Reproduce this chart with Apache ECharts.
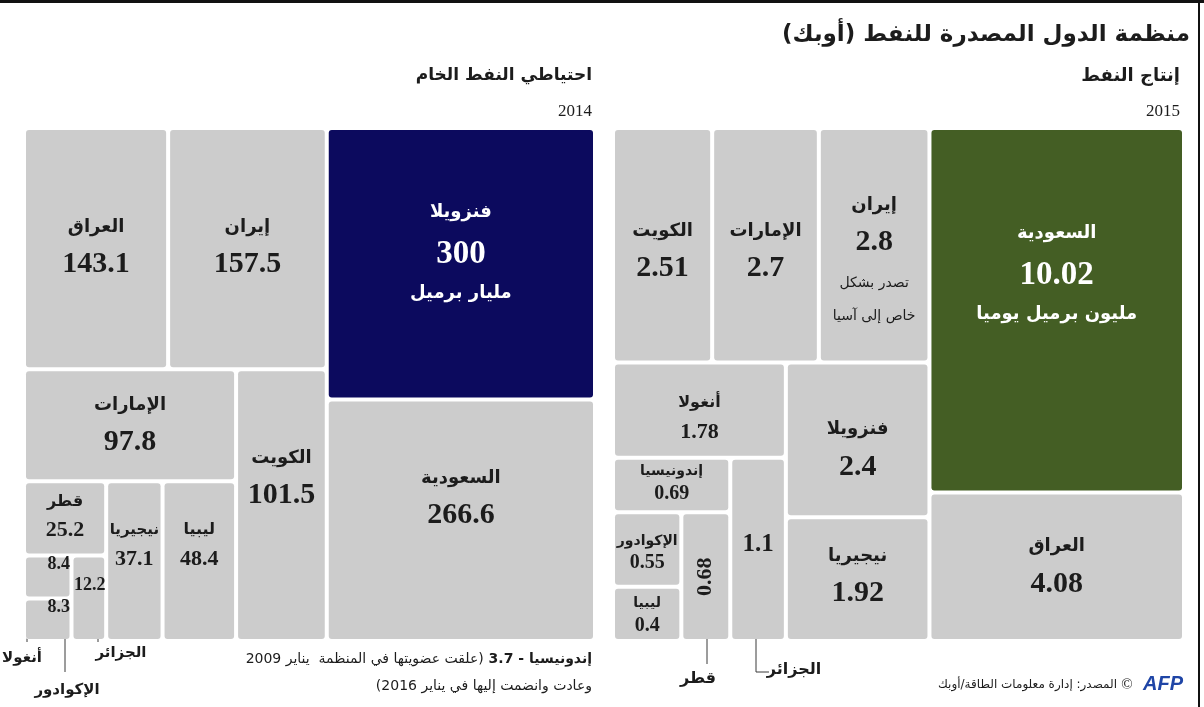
<!DOCTYPE html>
<html><head><meta charset="utf-8">
<script src="https://cdn.jsdelivr.net/npm/echarts@6/dist/echarts.min.js"></script>
<style>html,body{margin:0;padding:0;background:#fff;overflow:hidden}#c{width:1204px;height:707px}</style>
</head><body>
<div id="c" dir="rtl"></div>
<script>
// ---------------- data ----------------
const chartTitle = 'منظمة الدول المصدرة للنفط (أوبك)';
const reserveTitle = 'احتياطي النفط الخام';
const reserveYear = '2014';
const reserveUnit = 'مليار برميل';
const reserveCountries = ['فنزويلا','السعودية','إيران','العراق','الكويت','الإمارات','ليبيا','نيجيريا','قطر','الجزائر','أنغولا','الإكوادور'];
const reserveValues    = [300, 266.6, 157.5, 143.1, 101.5, 97.8, 48.4, 37.1, 25.2, 12.2, 8.4, 8.3];

const productionTitle = 'إنتاج النفط';
const productionYear = '2015';
const productionUnit = 'مليون برميل يوميا';
const productionCountries = ['السعودية','العراق','إيران','الإمارات','الكويت','فنزويلا','نيجيريا','أنغولا','الجزائر','إندونيسيا','قطر','الإكوادور','ليبيا'];
const productionValues    = [10.02, 4.08, 2.8, 2.7, 2.51, 2.4, 1.92, 1.78, 1.1, 0.69, 0.68, 0.55, 0.4];
const iranNote = ['تصدر بشكل', 'خاص إلى آسيا'];

const footnoteBold = 'إندونيسيا - 3.7 ';
const footnoteRest = '(علقت عضويتها في المنظمة  يناير 2009';
const footnoteLine2 = 'وعادت وانضمت إليها في يناير 2016)';
const sourceText = 'المصدر: إدارة معلومات الطاقة/أوبك';

// grouping (structure only) of the two treemaps
const reserveLayout = [['العراق','إيران',[['الإمارات',[['قطر',[['أنغولا','الإكوادور'],'الجزائر']],['نيجيريا','ليبيا']]],'الكويت']],'فنزويلا','السعودية'];
const productionLayout = [[['الكويت','الإمارات'],'إيران'], ['أنغولا',[['إندونيسيا',[['الإكوادور','ليبيا'],'قطر']],'الجزائر'],'فنزويلا','نيجيريا'], ['السعودية','العراق']];

// ---------------- styles ----------------
const AR = "'DejaVu Sans', sans-serif";
const NUM = "'Liberation Serif', 'DejaVu Serif', serif";
const DARK = '#1c1c1c';
const GRAY = '#cccccc';

const reserveStyle = {
  'فنزويلا': {kind:'big', dy:-12, color:'#0c0a5e'},
  'السعودية': {kind:'std', dy:-21},
  'إيران': {kind:'std', dy:0},
  'العراق': {kind:'std', dy:0},
  'الكويت': {kind:'std', dy:-26},
  'الإمارات': {kind:'std', dy:1},
  'ليبيا': {kind:'small', dy:-16},
  'نيجيريا': {kind:'smallN', dy:-16},
  'قطر': {kind:'small', dy:-2},
  'الجزائر': {kind:'tiny', dy:-12.5, dx:1},
  'أنغولا': {kind:'tiny', dy:-40, dx:11},
  'الإكوادور': {kind:'tiny', dy:-40, dx:11}
};
const productionStyle = {
  'السعودية': {kind:'big', dy:-38, color:'#445e24'},
  'العراق': {kind:'std', dy:1},
  'إيران': {kind:'note', dy:14},
  'الإمارات': {kind:'std', dy:7},
  'الكويت': {kind:'std', dy:7},
  'فنزويلا': {kind:'std', dy:11},
  'نيجيريا': {kind:'std', dy:-2},
  'أنغولا': {kind:'small', dy:8},
  'الجزائر': {kind:'tinyBig', dy:-5},
  'إندونيسيا': {kind:'mini', dy:-2},
  'قطر': {kind:'rot', dy:0, rotate:90},
  'الإكوادور': {kind:'mini', dy:3},
  'ليبيا': {kind:'mini', dy:1}
};
// line heights of each label kind (must match rich styles below)
const kindLines = {std:[32,42], small:[28,30], smallN:[28,30], mini:[21,23], tiny:[14], tinyBig:[30], rot:[30], note:[32,42,40,26], big:[42,42,36]};

function labelText(kind, name, val, unit) {
  switch (kind) {
    case 'big': return '{nw|' + name + '}\n{vw|' + val + '}\n{uw|' + unit + '}';
    case 'small': return '{ns|' + name + '}\n{vs|' + val + '}';
    case 'smallN': return '{nn|' + name + '}\n{vs|' + val + '}';
    case 'mini': return '{nx|' + name + '}\n{vx|' + val + '}';
    case 'tiny': return '{vt|' + val + '}';
    case 'tinyBig': return '{vb|' + val + '}';
    case 'rot': return '{vs|' + val + '}';
    case 'note': return '{n|' + name + '}\n{v|' + val + '}\n{s1|' + iranNote[0] + '}\n{s2|' + iranNote[1] + '}';
    default: return '{n|' + name + '}\n{v|' + val + '}';
  }
}

// cellHeights: heights of the cells as laid out by the treemap (second pass), used to centre the labels
function buildTree(layout, names, values, styles, unit, cellHeights) {
  const lookup = {};
  names.forEach(function (n, i) { lookup[n] = values[i]; });
  function node(entry) {
    if (Array.isArray(entry)) {
      return {name: '', children: entry.map(node), label: {show: false}};
    }
    const v = lookup[entry];
    const st = styles[entry] || {kind: 'std', dy: 0};
    const contentH = kindLines[st.kind].reduce(function (a, b) { return a + b; }, 0);
    let pad = 0;
    if (cellHeights && cellHeights[entry] != null) {
      pad = Math.max(0, (cellHeights[entry] - contentH) / 2 + (st.dy || 0));
    }
    return {
      name: entry,
      value: v,
      itemStyle: {color: st.color || GRAY},
      label: {show: true, formatter: labelText(st.kind, entry, String(v), unit),
        padding: [pad, 0, 0, 0], offset: [st.dx || 0, 0], rotate: st.rotate || 0}
    };
  }
  return layout.map(node);
}

const rich = {
  n:  {fontFamily: AR, fontSize: 18, fontWeight: 'bold', color: DARK, lineHeight: 32, align: 'center'},
  v:  {fontFamily: NUM, fontSize: 30, fontWeight: 'bold', color: DARK, lineHeight: 42, align: 'center'},
  ns: {fontFamily: AR, fontSize: 16, fontWeight: 'bold', color: DARK, lineHeight: 28, align: 'center'},
  nn: {fontFamily: AR, fontSize: 15, fontWeight: 'bold', color: DARK, lineHeight: 28, align: 'center'},
  vs: {fontFamily: NUM, fontSize: 22, fontWeight: 'bold', color: DARK, lineHeight: 30, align: 'center'},
  nx: {fontFamily: AR, fontSize: 14, fontWeight: 'bold', color: DARK, lineHeight: 21, align: 'center'},
  vx: {fontFamily: NUM, fontSize: 20, fontWeight: 'bold', color: DARK, lineHeight: 23, align: 'center'},
  vt: {fontFamily: NUM, fontSize: 18, fontWeight: 'bold', color: DARK, lineHeight: 14, align: 'center'},
  vb: {fontFamily: NUM, fontSize: 25, fontWeight: 'bold', color: DARK, lineHeight: 30, align: 'center'},
  nw: {fontFamily: AR, fontSize: 18, fontWeight: 'bold', color: '#fff', lineHeight: 42, align: 'center'},
  vw: {fontFamily: NUM, fontSize: 33, fontWeight: 'bold', color: '#fff', lineHeight: 42, align: 'center'},
  uw: {fontFamily: AR, fontSize: 18, fontWeight: 'bold', color: '#fff', lineHeight: 36, align: 'center'},
  s1: {fontFamily: AR, fontSize: 14, color: DARK, lineHeight: 40, align: 'center'},
  s2: {fontFamily: AR, fontSize: 14, color: DARK, lineHeight: 26, align: 'center'}
};

function treemapSeries(box, ratio, data) {
  return {
    type: 'treemap',
    left: box[0], top: box[1], width: box[2], height: box[3],
    squareRatio: ratio,
    sort: false,
    roam: false,
    nodeClick: false,
    visibleMin: 0,
    breadcrumb: {show: false},
    itemStyle: {gapWidth: 4, borderWidth: 0, borderColor: '#ffffff', borderRadius: 3},
    upperLabel: {show: false},
    label: {show: true, position: 'inside', overflow: 'none', padding: 0, rich: rich},
    emphasis: {disabled: true},
    silent: true,
    data: data
  };
}

function txt(x, y, text, size, opts) {
  opts = opts || {};
  return {type: 'text', x: x, y: y, silent: true, style: {
    text: text, fontSize: size, fontFamily: opts.family || AR, fontWeight: opts.weight || 'normal',
    fontStyle: opts.style || 'normal', fill: opts.color || DARK,
    align: opts.align || 'right', verticalAlign: 'middle', rich: opts.rich
  }};
}
function line(points) {
  return {type: 'polyline', silent: true, shape: {points: points}, style: {stroke: '#3a3a3a', lineWidth: 1, fill: null}};
}
function dot(x, y) {
  return {type: 'circle', silent: true, shape: {cx: x, cy: y, r: 1.6}, style: {fill: '#3a3a3a'}};
}

const chart = echarts.init(document.getElementById('c'));
chart.setOption({
  backgroundColor: '#ffffff',
  animation: false,
  series: [
    treemapSeries([26, 130, 567, 509], 1.248, buildTree(reserveLayout, reserveCountries, reserveValues, reserveStyle, reserveUnit)),
    treemapSeries([615, 130, 567, 509], 1.551, buildTree(productionLayout, productionCountries, productionValues, productionStyle, productionUnit))
  ],
  graphic: {elements: [
    {type: 'line', silent: true, shape: {x1: 0, y1: 1.5, x2: 1204, y2: 1.5}, style: {stroke: '#111', lineWidth: 3}},
    {type: 'line', silent: true, shape: {x1: 1199, y1: 0, x2: 1199, y2: 707}, style: {stroke: '#111', lineWidth: 2}},
    txt(1190, 35, chartTitle, 23, {weight: 'bold'}),
    txt(1180, 76, productionTitle, 18, {weight: 'bold'}),
    txt(1180, 112, productionYear, 17, {family: NUM}),
    txt(592, 76, reserveTitle, 17, {weight: 'bold'}),
    txt(592, 112, reserveYear, 17, {family: NUM}),
    txt(592, 659, '{r|' + footnoteRest + '}{b|' + footnoteBold + '}', 14, {rich: {
      r: {fontSize: 14, fontFamily: AR, color: DARK},
      b: {fontSize: 14, fontFamily: AR, fontWeight: 'bold', color: DARK}
    }}),
    txt(592, 686, footnoteLine2, 14),
    txt(1117, 685, sourceText, 12),
    txt(1127, 685, '©', 15, {align: 'center', family: NUM}),
    txt(1163, 684, 'AFP', 20, {align: 'center', weight: 'bold', style: 'italic', color: '#1f45a6', family: "'Liberation Sans', sans-serif"}),
    // leader lines and outside labels (left)
    line([[45, 565], [27, 565], [27, 642]]),
    {type: 'polygon', silent: true, shape: {points: [[47, 565], [42, 562.5], [42, 567.5]]}, style: {fill: '#3a3a3a'}},
    txt(22, 658, 'أنغولا', 15, {weight: 'bold', align: 'center'}),
    line([[65, 621], [65, 672]]), dot(65, 621),
    txt(67, 690, 'الإكوادور', 15, {weight: 'bold', align: 'center'}),
    line([[98, 601], [98, 642]]), dot(98, 601),
    txt(121, 653, 'الجزائر', 15, {weight: 'bold', align: 'center'}),
    // right
    line([[707, 617], [707, 664]]), dot(707, 617),
    txt(698, 679, 'قطر', 16, {weight: 'bold', align: 'center'}),
    line([[756, 584], [756, 672], [769, 672]]), dot(756, 584),
    txt(794, 670, 'الجزائر', 16, {weight: 'bold', align: 'center'})
  ]}
});

// second pass: read the cell heights that the treemap computed and centre the labels in them
function cellHeights(seriesIndex) {
  const data = chart.getModel().getSeriesByIndex(seriesIndex).getData();
  const h = {};
  for (let i = 0; i < data.count(); i++) {
    const lay = data.getItemLayout(i);
    const nm = data.getName(i);
    if (lay && nm) h[nm] = lay.height;
  }
  return h;
}
const h0 = cellHeights(0), h1 = cellHeights(1);
chart.setOption({series: [
  {data: buildTree(reserveLayout, reserveCountries, reserveValues, reserveStyle, reserveUnit, h0)},
  {data: buildTree(productionLayout, productionCountries, productionValues, productionStyle, productionUnit, h1)}
]});
</script>
</body></html>
